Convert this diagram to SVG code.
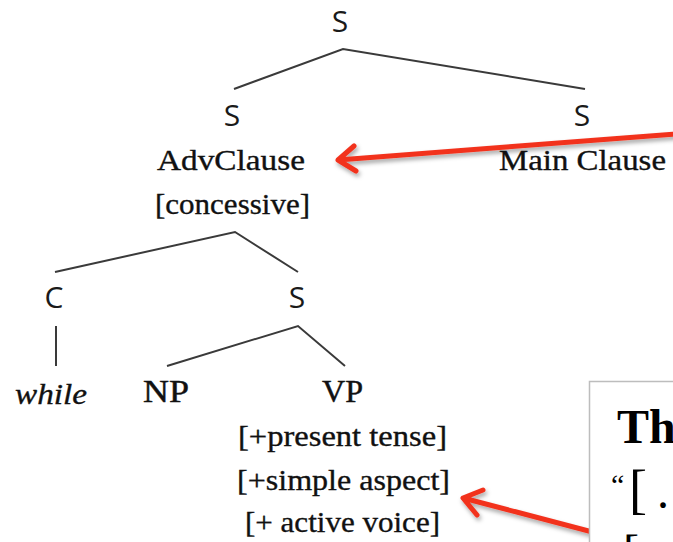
<svg xmlns="http://www.w3.org/2000/svg" width="673" height="542" viewBox="0 0 673 542">
  <defs>
    <filter id="shadow" x="-10%" y="-50%" width="120%" height="200%">
      <feDropShadow dx="1.5" dy="3" stdDeviation="2" flood-color="#000" flood-opacity="0.35"/>
    </filter>
  </defs>
  <style>
    .cat { font-family: "Open Sans", "DejaVu Sans", sans-serif; font-size: 30px; fill: #1a1a1a; text-anchor: middle; }
    .lbl { font-family: "Liberation Serif", "Times New Roman", serif; font-size: 29px; fill: #111; stroke: #111; stroke-width: 0.35; }
    .phr { font-family: "Liberation Serif", "Times New Roman", serif; font-size: 31px; fill: #111; stroke: #111; stroke-width: 0.45; }
    .it { font-style: italic; }
    .branch { fill: none; stroke: #3a3a3a; stroke-width: 2; stroke-linejoin: miter; }
    .pointer { fill: none; stroke: #f2331f; stroke-width: 5; stroke-linecap: round; stroke-linejoin: round; }
    .box { fill: #ffffff; stroke: #bdbdbd; stroke-width: 1.5; }
    .boxtext { font-family: "Liberation Serif", "Times New Roman", serif; font-size: 48px; fill: #000; }
  </style>

  <!-- tree branches -->
  <g id="connectors">
    <polyline class="branch" points="234,89 343,49 585,89"/>
    <polyline class="branch" points="55,272 235,232 298,272"/>
    <line class="branch" x1="56" y1="326" x2="56" y2="366"/>
    <polyline class="branch" points="167,366 298,326 345,366"/>
  </g>

  <!-- nodes -->
  <g id="s-root"><text class="cat" x="340" y="32">S</text></g>
  <g id="s-adv">
    <text class="cat" x="232" y="126">S</text>
    <text class="lbl" x="157" y="170" textLength="148" lengthAdjust="spacingAndGlyphs">AdvClause</text>
    <text class="lbl" x="155" y="214" textLength="155" lengthAdjust="spacingAndGlyphs">[concessive]</text>
  </g>
  <g id="s-main">
    <text class="cat" x="582" y="126">S</text>
    <text class="lbl" x="499" y="170" textLength="167" lengthAdjust="spacingAndGlyphs">Main Clause</text>
  </g>
  <g id="c-node">
    <text class="cat" x="54" y="308">C</text>
  </g>
  <g id="while-leaf">
    <text class="lbl it" x="15" y="404" textLength="72" lengthAdjust="spacingAndGlyphs">while</text>
  </g>
  <g id="s-inner"><text class="cat" x="297" y="308">S</text></g>
  <g id="np-node">
    <text class="phr" x="143" y="402" textLength="46" lengthAdjust="spacingAndGlyphs">NP</text>
  </g>
  <g id="vp-node">
    <text class="phr" x="322" y="402" textLength="41" lengthAdjust="spacingAndGlyphs">VP</text>
    <text class="lbl" x="238" y="446" textLength="209" lengthAdjust="spacingAndGlyphs">[+present tense]</text>
    <text class="lbl" x="237" y="490" textLength="213" lengthAdjust="spacingAndGlyphs">[+simple aspect]</text>
    <text class="lbl" x="245" y="532" textLength="195" lengthAdjust="spacingAndGlyphs">[+ active voice]</text>
  </g>

  <!-- red pointers -->
  <g id="pointers" filter="url(#shadow)">
    <path class="pointer" d="M 676,134 L 338,160 M 356,171 L 338,160 L 354,146"/>
    <path class="pointer" d="M 600,534 L 463,498 M 477,515 L 463,498 L 483,490"/>
  </g>

  <!-- callout box at the lower right -->
  <g id="callout">
    <rect class="box" x="589.5" y="381.5" width="100" height="200"/>
    <text class="boxtext" x="617" y="443" font-weight="bold">Th</text>
    <text class="boxtext" x="611" y="508"><tspan font-size="30" dy="-13">“</tspan><tspan x="629" dy="13" font-size="54">[</tspan><tspan x="657">.</tspan></text>
    <text class="boxtext" x="623" y="568" font-size="54">[</text>
  </g>
</svg>
